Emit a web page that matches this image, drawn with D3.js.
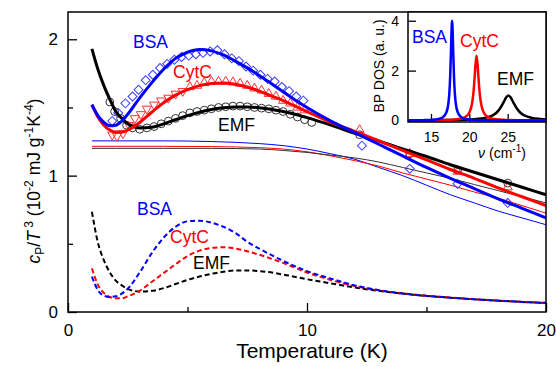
<!DOCTYPE html>
<html>
<head>
<meta charset="utf-8">
<script src="https://cdn.jsdelivr.net/npm/d3@7"></script>
<style>
  body { margin: 0; background: #fff; }
  svg { display: block; font-family: Arial, "Liberation Sans", sans-serif; }
</style>
</head>
<body>
<div id="chart"></div>
<script>
'use strict';

// ---- main panel: fit curves (thick), Debye-like parts (thin), BP parts (dashed)
const fitT = [1, 1.25, 1.5, 1.75, 2, 2.25, 2.5, 3, 3.5, 4, 4.5, 5, 5.5, 6, 6.5, 7, 7.5, 8, 8.5, 9, 9.5, 10, 11, 12, 13, 14, 15, 16, 17, 18, 19, 20];
const fitBSA = [1.52, 1.44, 1.39, 1.365, 1.37, 1.40, 1.45, 1.57, 1.68, 1.78, 1.86, 1.905, 1.925, 1.915, 1.885, 1.84, 1.79, 1.735, 1.675, 1.615, 1.555, 1.50, 1.40, 1.315, 1.23, 1.145, 1.06, 0.98, 0.905, 0.83, 0.76, 0.69];
const fitCytC = [1.52, 1.43, 1.37, 1.335, 1.32, 1.32, 1.335, 1.39, 1.465, 1.535, 1.59, 1.63, 1.66, 1.675, 1.68, 1.67, 1.65, 1.62, 1.585, 1.55, 1.51, 1.47, 1.39, 1.325, 1.255, 1.185, 1.115, 1.045, 0.98, 0.91, 0.845, 0.78];
const fitEMF = [1.93, 1.78, 1.66, 1.56, 1.47, 1.42, 1.38, 1.35, 1.355, 1.38, 1.41, 1.44, 1.465, 1.485, 1.497, 1.503, 1.503, 1.498, 1.487, 1.47, 1.45, 1.425, 1.37, 1.31, 1.255, 1.195, 1.14, 1.08, 1.025, 0.97, 0.915, 0.86];

const thinT = [1, 2, 4, 6, 8, 9, 10, 11, 12, 13, 14, 15, 16, 17, 18, 19, 20];
const thinBSA = [1.255, 1.255, 1.255, 1.25, 1.235, 1.22, 1.195, 1.16, 1.12, 1.06, 1.00, 0.93, 0.86, 0.80, 0.74, 0.69, 0.64];
const thinCytC = [1.215, 1.215, 1.215, 1.213, 1.205, 1.195, 1.175, 1.145, 1.11, 1.07, 1.02, 0.975, 0.93, 0.88, 0.835, 0.78, 0.725];
const thinEMF = [1.20, 1.20, 1.20, 1.20, 1.195, 1.185, 1.17, 1.15, 1.13, 1.10, 1.06, 1.02, 0.98, 0.935, 0.89, 0.845, 0.80];

const bpT = [1, 1.25, 1.5, 1.75, 2, 2.25, 2.5, 3, 3.5, 4, 4.5, 5, 5.5, 6, 6.5, 7, 7.5, 8, 9, 10, 11, 12, 13, 14, 15, 16, 17, 18, 19, 20];
const bpBSA = [0.26, 0.16, 0.12, 0.11, 0.115, 0.135, 0.17, 0.29, 0.43, 0.545, 0.625, 0.665, 0.67, 0.655, 0.625, 0.58, 0.515, 0.465, 0.375, 0.30, 0.245, 0.195, 0.16, 0.135, 0.118, 0.105, 0.093, 0.083, 0.074, 0.066];
const bpCytC = [0.32, 0.20, 0.14, 0.11, 0.10, 0.10, 0.115, 0.155, 0.22, 0.285, 0.35, 0.41, 0.45, 0.47, 0.475, 0.465, 0.445, 0.42, 0.36, 0.29, 0.235, 0.19, 0.16, 0.137, 0.12, 0.106, 0.094, 0.084, 0.075, 0.067];
const bpEMF = [0.735, 0.51, 0.38, 0.29, 0.23, 0.195, 0.17, 0.15, 0.155, 0.175, 0.205, 0.235, 0.26, 0.28, 0.295, 0.305, 0.305, 0.30, 0.275, 0.24, 0.21, 0.18, 0.155, 0.135, 0.118, 0.105, 0.093, 0.083, 0.074, 0.066];

// ---- measured points
const bsaT = [1.85, 2.1, 2.4, 2.7, 2.95, 3.25, 3.55, 3.85, 4.15, 4.45, 4.75, 5.05, 5.35, 5.65, 5.95, 6.25, 6.55, 6.85, 7.15, 7.45, 7.75, 8.05, 8.35, 8.65, 8.95, 9.25, 9.55, 9.85, 12.3, 14.3, 16.3, 18.4];
const bsaVal = [1.40, 1.46, 1.53, 1.58, 1.63, 1.70, 1.74, 1.79, 1.82, 1.85, 1.87, 1.88, 1.89, 1.90, 1.91, 1.92, 1.89, 1.86, 1.84, 1.80, 1.77, 1.74, 1.71, 1.69, 1.65, 1.62, 1.58, 1.55, 1.22, 1.05, 0.94, 0.80];
const cytLowT = [1.85, 2.05, 2.3, 2.55, 2.8, 3.05, 3.3, 3.6, 3.9, 4.2, 4.5, 4.8];
const cytLowVal = [1.30, 1.29, 1.31, 1.37, 1.42, 1.45, 1.49, 1.52, 1.55, 1.57, 1.60, 1.62];
const cytHighT = [5.1, 5.4, 5.7, 6.0, 6.3, 6.6, 6.9, 7.2, 7.5, 7.8, 8.1, 8.4, 8.7, 9.0, 9.3, 9.6, 9.9, 12.2, 14.3, 16.3, 18.4];
const cytHighVal = [1.65, 1.66, 1.68, 1.69, 1.69, 1.69, 1.685, 1.675, 1.66, 1.64, 1.625, 1.60, 1.58, 1.55, 1.53, 1.50, 1.48, 1.335, 1.16, 1.03, 0.915];
const emfT = [1.75, 1.95, 2.2, 2.45, 2.7, 3.0, 3.3, 3.6, 3.9, 4.2, 4.5, 4.8, 5.1, 5.4, 5.7, 6.0, 6.3, 6.6, 6.9, 7.2, 7.5, 7.8, 8.1, 8.4, 8.7, 9.0, 9.3, 9.6, 9.9, 10.2, 12.2, 14.3, 16.3, 18.4];
const emfVal = [1.54, 1.47, 1.42, 1.37, 1.35, 1.34, 1.35, 1.36, 1.38, 1.40, 1.42, 1.44, 1.46, 1.47, 1.48, 1.49, 1.50, 1.505, 1.51, 1.51, 1.505, 1.50, 1.495, 1.49, 1.48, 1.47, 1.45, 1.43, 1.41, 1.39, 1.30, 1.16, 1.04, 0.945];

// ---- inset: boson peak density of states
const dosBSA = [[12, 0.006], [14, 0.014], [15, 0.025], [16, 0.062], [16.5, 0.12], [17, 0.32], [17.3, 0.77], [17.4, 1.13], [17.5, 1.75], [17.6, 2.73], [17.65, 3.31], [17.7, 3.8], [17.75, 4.0], [17.8, 3.8], [17.85, 3.31], [17.9, 2.73], [18.0, 1.75], [18.1, 1.13], [18.2, 0.77], [18.5, 0.32], [19, 0.12], [19.5, 0.062], [20.5, 0.025], [22, 0.011], [25, 0.004], [30, 0.001]];
const dosCytC = [[12, 0.004], [15, 0.009], [17, 0.02], [18, 0.036], [19, 0.082], [19.5, 0.145], [20, 0.32], [20.3, 0.6], [20.5, 1.01], [20.6, 1.34], [20.7, 1.77], [20.8, 2.24], [20.94, 2.6], [21.08, 2.24], [21.18, 1.77], [21.28, 1.34], [21.38, 1.01], [21.58, 0.6], [21.88, 0.32], [22.38, 0.145], [22.88, 0.082], [23.88, 0.036], [25, 0.019], [27, 0.009], [30, 0.004]];
const dosEMF = [[12, 0.006], [15, 0.011], [17, 0.017], [19, 0.029], [20, 0.041], [21, 0.062], [22, 0.103], [23, 0.2], [23.5, 0.3], [24, 0.48], [24.5, 0.75], [24.8, 0.92], [25.1, 1.0], [25.4, 0.92], [25.7, 0.75], [26.2, 0.48], [26.7, 0.3], [27.2, 0.2], [28.2, 0.103], [29.2, 0.062], [30, 0.044]];

const xTicks = [0, 10, 20];
const xMinor = [5, 15];
const yTicks = [0, 1, 2];
const yMinor = [0.5, 1.5];
const insetXTicks = [15, 20, 25];
const insetYTicks = [0, 2, 4];

const BLUE = '#0000ff';
const RED = '#ff0000';
const BLACK = '#000000';

const width = 556;
const height = 367;
const frame = { left: 68, right: 546, top: 12, bottom: 312 };

const svg = d3.select('#chart')
    .append('svg')
    .attr('width', width)
    .attr('height', height);

const x = d3.scaleLinear().domain([0, 20]).range([frame.left, frame.right]);
const y = d3.scaleLinear().domain([0, 2.2]).range([frame.bottom, frame.top]);

function zip(ts, vs) {
    return ts.map(function (t, i) { return [t, vs[i]]; });
}

const line = d3.line()
    .x(function (d) { return x(d[0]); })
    .y(function (d) { return y(d[1]); })
    .curve(d3.curveMonotoneX);

// axes (inward ticks)
function styleAxis(g) {
    g.select('.domain').remove();
    g.selectAll('line').attr('stroke', '#000').attr('stroke-width', 1.3);
    g.selectAll('text').attr('fill', '#000').attr('font-size', 17);
}

svg.append('g')
    .attr('transform', `translate(0,${frame.bottom})`)
    .call(d3.axisBottom(x).tickValues(xTicks).tickSize(-9).tickPadding(12).tickFormat(d3.format('d')))
    .call(styleAxis);
svg.append('g')
    .attr('transform', `translate(0,${frame.bottom})`)
    .call(d3.axisBottom(x).tickValues(xMinor).tickSize(-5).tickFormat(''))
    .call(styleAxis);
svg.append('g')
    .attr('transform', `translate(${frame.left},0)`)
    .call(d3.axisLeft(y).tickValues(yTicks).tickSize(-9).tickPadding(10).tickFormat(d3.format('d')))
    .call(styleAxis);
svg.append('g')
    .attr('transform', `translate(${frame.left},0)`)
    .call(d3.axisLeft(y).tickValues(yMinor).tickSize(-5).tickFormat(''))
    .call(styleAxis);

// thin lines
[[thinBSA, BLUE], [thinCytC, RED], [thinEMF, '#333']].forEach(function (s) {
    svg.append('path')
        .datum(zip(thinT, s[0]))
        .attr('d', line)
        .attr('fill', 'none')
        .attr('stroke', s[1])
        .attr('stroke-width', 1);
});

// dashed BP contributions
[[bpEMF, BLACK], [bpCytC, RED], [bpBSA, BLUE]].forEach(function (s) {
    svg.append('path')
        .datum(zip(bpT, s[0]))
        .attr('d', line)
        .attr('fill', 'none')
        .attr('stroke', s[1])
        .attr('stroke-width', 2)
        .attr('stroke-dasharray', '5,3');
});

// markers
const circleSym = d3.symbol().type(d3.symbolCircle).size(48);
const squareSym = d3.symbol().type(d3.symbolSquare).size(40);
const triSym = d3.symbol().type(d3.symbolTriangle).size(36);

svg.append('g').selectAll('path')
    .data(zip(emfT, emfVal))
    .join('path')
    .attr('d', circleSym)
    .attr('transform', function (d) { return `translate(${x(d[0])},${y(d[1])})`; })
    .attr('fill', 'none')
    .attr('stroke', '#333')
    .attr('stroke-width', 1);

svg.append('g').selectAll('path')
    .data(zip(cytLowT, cytLowVal))
    .join('path')
    .attr('d', triSym)
    .attr('transform', function (d) { return `translate(${x(d[0])},${y(d[1])}) rotate(180)`; })
    .attr('fill', 'none')
    .attr('stroke', '#ff3333')
    .attr('stroke-width', 1);

svg.append('g').selectAll('path')
    .data(zip(cytHighT, cytHighVal))
    .join('path')
    .attr('d', triSym)
    .attr('transform', function (d) { return `translate(${x(d[0])},${y(d[1])})`; })
    .attr('fill', 'none')
    .attr('stroke', '#ff3333')
    .attr('stroke-width', 1);

svg.append('g').selectAll('path')
    .data(zip(bsaT, bsaVal))
    .join('path')
    .attr('d', squareSym)
    .attr('transform', function (d) { return `translate(${x(d[0])},${y(d[1])}) rotate(45)`; })
    .attr('fill', 'none')
    .attr('stroke', '#3c3cff')
    .attr('stroke-width', 1);

// thick fits
[[fitEMF, BLACK], [fitCytC, RED], [fitBSA, BLUE]].forEach(function (s) {
    svg.append('path')
        .datum(zip(fitT, s[0]))
        .attr('d', line)
        .attr('fill', 'none')
        .attr('stroke', s[1])
        .attr('stroke-width', 3);
});

// series labels
const labels = [
    ['BSA', BLUE, 133, 48], ['CytC', RED, 173, 78], ['EMF', BLACK, 218, 131],
    ['BSA', BLUE, 137, 215], ['CytC', RED, 170, 243], ['EMF', BLACK, 193, 269]
];
labels.forEach(function (l) {
    svg.append('text')
        .attr('x', l[2])
        .attr('y', l[3])
        .attr('fill', l[1])
        .attr('font-size', 17.5)
        .text(l[0]);
});

// frame
svg.append('rect')
    .attr('x', frame.left)
    .attr('y', frame.top)
    .attr('width', frame.right - frame.left)
    .attr('height', frame.bottom - frame.top)
    .attr('fill', 'none')
    .attr('stroke', '#000')
    .attr('stroke-width', 1.5);

// axis titles
svg.append('text')
    .attr('x', 312)
    .attr('y', 358)
    .attr('text-anchor', 'middle')
    .attr('font-size', 21)
    .text('Temperature (K)');

const yTitle = svg.append('text')
    .attr('transform', 'translate(40,181) rotate(-90)')
    .attr('text-anchor', 'middle')
    .attr('font-size', 17.5);
yTitle.append('tspan').attr('font-style', 'italic').text('c');
yTitle.append('tspan').attr('font-size', 12).attr('dy', 4).text('P');
yTitle.append('tspan').attr('dy', -4).text('/');
yTitle.append('tspan').attr('font-style', 'italic').text('T');
yTitle.append('tspan').attr('font-size', 12).attr('dy', -7).text(' 3');
yTitle.append('tspan').attr('dy', 7).text(' (10');
yTitle.append('tspan').attr('font-size', 12).attr('dy', -7).text('-2');
yTitle.append('tspan').attr('dy', 7).text(' mJ g');
yTitle.append('tspan').attr('font-size', 12).attr('dy', -7).text('-1');
yTitle.append('tspan').attr('dy', 7).text('K');
yTitle.append('tspan').attr('font-size', 12).attr('dy', -7).text('-4');
yTitle.append('tspan').attr('dy', 7).text(')');

// ---- inset
const inset = { left: 408, right: 546, top: 12, bottom: 122 };
const ix = d3.scaleLinear().domain([12, 30]).range([inset.left, inset.right]);
const iy = d3.scaleLinear().domain([-0.06, 4.35]).range([inset.bottom, inset.top]);

svg.append('rect')
    .attr('x', inset.left)
    .attr('y', inset.top)
    .attr('width', inset.right - inset.left)
    .attr('height', inset.bottom - inset.top)
    .attr('fill', '#fff');

function styleInsetAxis(g) {
    g.select('.domain').remove();
    g.selectAll('line').attr('stroke', '#000').attr('stroke-width', 1.3);
    g.selectAll('text').attr('fill', '#000').attr('font-size', 14);
}

svg.append('g')
    .attr('transform', `translate(0,${inset.bottom})`)
    .call(d3.axisBottom(ix).tickValues(insetXTicks).tickSize(-8).tickPadding(10).tickFormat(d3.format('d')))
    .call(styleInsetAxis);
svg.append('g')
    .attr('transform', `translate(${inset.left},0)`)
    .call(d3.axisLeft(iy).tickValues(insetYTicks).tickSize(-8).tickPadding(9).tickFormat(d3.format('d')))
    .call(styleInsetAxis);

const iline = d3.line()
    .x(function (d) { return ix(d[0]); })
    .y(function (d) { return iy(d[1]); })
    .curve(d3.curveMonotoneX);

[[dosEMF, BLACK], [dosCytC, RED], [dosBSA, BLUE]].forEach(function (s) {
    svg.append('path')
        .datum(s[0])
        .attr('d', iline)
        .attr('fill', 'none')
        .attr('stroke', s[1])
        .attr('stroke-width', 2.5);
});

[['BSA', BLUE, 412, 43], ['CytC', RED, 460, 47], ['EMF', BLACK, 497, 85]].forEach(function (l) {
    svg.append('text')
        .attr('x', l[2])
        .attr('y', l[3])
        .attr('fill', l[1])
        .attr('font-size', 17.5)
        .text(l[0]);
});

svg.append('rect')
    .attr('x', inset.left)
    .attr('y', inset.top)
    .attr('width', inset.right - inset.left)
    .attr('height', inset.bottom - inset.top)
    .attr('fill', 'none')
    .attr('stroke', '#000')
    .attr('stroke-width', 1.5);

svg.append('text')
    .attr('transform', 'translate(384,66) rotate(-90)')
    .attr('text-anchor', 'middle')
    .attr('font-size', 14)
    .text('BP DOS (a. u.)');

const nuTitle = svg.append('text')
    .attr('x', 502)
    .attr('y', 158)
    .attr('text-anchor', 'middle')
    .attr('font-size', 14);
nuTitle.append('tspan').attr('font-style', 'italic').text('ν');
nuTitle.append('tspan').text(' (cm');
nuTitle.append('tspan').attr('font-size', 10).attr('dy', -6).text('-1');
nuTitle.append('tspan').attr('dy', 6).text(')');
</script>
</body>
</html>
